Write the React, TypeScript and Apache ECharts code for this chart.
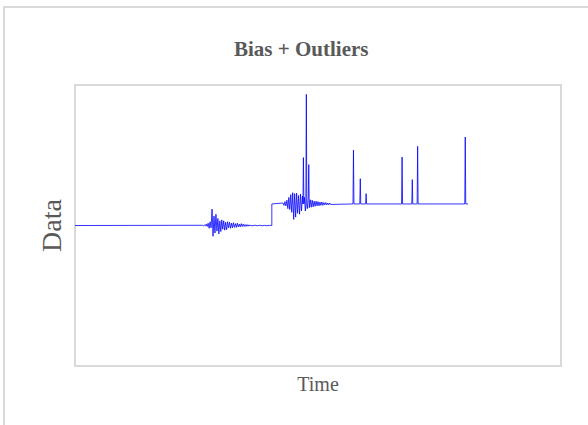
import React, { useEffect, useRef } from "react";
import * as echarts from "echarts";

// Signal layout (time in samples, value in arbitrary units)
const TIME_MAX = 1000;
const VALUE_MIN = -3;
const VALUE_MAX = 3;
const STEP_TIME = 405; // bias is switched on here
const BIAS = 0.46;
const END_TIME = 809;

// first disturbance, one value every BURST_STEP samples
const BURST_STEP = 2;
const BURST1_START = 262;
const burst1 = [
  0.005, -0.01, 0.01, -0.01, 0.03, -0.02, 0.05, -0.06, 0.08, -0.05, 0.35, -0.23,
  0.2, -0.16, 0.24, -0.12, 0.15, -0.18, 0.1, -0.13, 0.12, -0.08, 0.1, -0.1,
  0.07, -0.09, 0.08, -0.05, 0.07, -0.06, 0.05, -0.05, 0.06, -0.04, 0.04, -0.04,
  0.05, -0.03, 0.03, -0.03, 0.04, -0.02, 0.03, -0.02, 0.02, -0.02, 0.02, -0.015,
  0.015, -0.01, 0.01, -0.01,
];
// faint residual ripple before the step
const TAIL1_START = 370;
const TAIL1_STEP = 5;
const tail1 = [0.006, -0.005, 0.005, -0.006, 0.004, -0.005, 0.004];

// second disturbance, deviations from the bias level
const BURST2_START = 428;
const burst2 = [
  0.02, -0.03, 0.05, -0.04, 0.08, -0.1, 0.14, -0.12, 0.2, -0.18, 0.24, -0.33,
  0.22, -0.28, 0.23, -0.2, 0.18, -0.22, 0.21, -0.15, 0.17, -0.12, 0.14, -0.15,
  0.1, -0.1, 0.12, -0.08, 0.09, -0.07, 0.08, -0.06, 0.06, -0.05, 0.06, -0.04,
  0.05, -0.04, 0.04, -0.03, 0.04, -0.03, 0.03, -0.02, 0.03, -0.02, 0.02, -0.02,
  0.02, -0.01,
];

// isolated outliers (absolute values)
const outlierTimes = [470, 476, 481, 573, 587, 599, 673, 694, 705, 803];
const outlierValues = [1.45, 2.8, 1.3, 1.61, 1.0, 0.68, 1.46, 0.98, 1.69, 1.89];

function buildSignal(): [number, number][] {
  const pts: [number, number][] = [[0, 0]];
  burst1.forEach((d, i) => pts.push([BURST1_START + i * BURST_STEP, d]));
  tail1.forEach((d, i) => pts.push([TAIL1_START + i * TAIL1_STEP, d]));
  pts.push([STEP_TIME, 0]);

  const biased = new Map<number, number>();
  biased.set(STEP_TIME, BIAS);
  burst2.forEach((d, i) => biased.set(BURST2_START + i * BURST_STEP, BIAS + d));
  outlierTimes.forEach((t, i) => {
    if (!biased.has(t - 1)) biased.set(t - 1, BIAS);
    if (!biased.has(t + 1)) biased.set(t + 1, BIAS);
    biased.set(t, outlierValues[i]);
  });
  biased.set(END_TIME, BIAS);
  [...biased.keys()]
    .sort((a, b) => a - b)
    .forEach((t) => pts.push([t, biased.get(t) as number]));
  return pts;
}

const FONT = "'Times New Roman', 'Liberation Serif', serif";
const TEXT_COLOR = "#595959";
const BORDER_COLOR = "#d9d9d9";

export default function App() {
  const ref = useRef<HTMLDivElement>(null);

  useEffect(() => {
    if (!ref.current) return;
    const chart = echarts.init(ref.current, undefined, { renderer: "svg" });
    chart.setOption({
      animation: false,
      backgroundColor: "#ffffff",
      title: {
        text: "Bias + Outliers",
        left: 229,
        top: 33,
        textStyle: {
          fontFamily: FONT,
          fontSize: 21,
          fontWeight: "bold",
          color: TEXT_COLOR,
        },
      },
      graphic: [
        {
          type: "rect",
          shape: { x: 4, y: 7, width: 620, height: 440 },
          style: { fill: "none", stroke: BORDER_COLOR, lineWidth: 2 },
          silent: true,
        },
      ],
      grid: {
        left: 75,
        top: 85,
        right: 27,
        bottom: 59,
        show: true,
        borderColor: BORDER_COLOR,
        borderWidth: 2,
        backgroundColor: "transparent",
      },
      xAxis: {
        type: "value",
        min: 0,
        max: TIME_MAX,
        name: "Time",
        nameLocation: "middle",
        nameGap: 8,
        nameTextStyle: { fontFamily: FONT, fontSize: 20, color: TEXT_COLOR },
        axisLine: { show: false },
        axisTick: { show: false },
        axisLabel: { show: false },
        splitLine: { show: false },
      },
      yAxis: {
        type: "value",
        min: VALUE_MIN,
        max: VALUE_MAX,
        name: "Data",
        nameLocation: "middle",
        nameGap: 10,
        nameTextStyle: { fontFamily: FONT, fontSize: 28, color: TEXT_COLOR },
        axisLine: { show: false },
        axisTick: { show: false },
        axisLabel: { show: false },
        splitLine: { show: false },
      },
      series: [
        {
          type: "line",
          data: buildSignal(),
          showSymbol: false,
          symbol: "none",
          lineStyle: { color: "#0000ff", width: 0.8 },
          silent: true,
        },
      ],
    });
    return () => chart.dispose();
  }, []);

  return <div ref={ref} style={{ width: 588, height: 425, position: "absolute", left: 0, top: 0 }} />;
}
